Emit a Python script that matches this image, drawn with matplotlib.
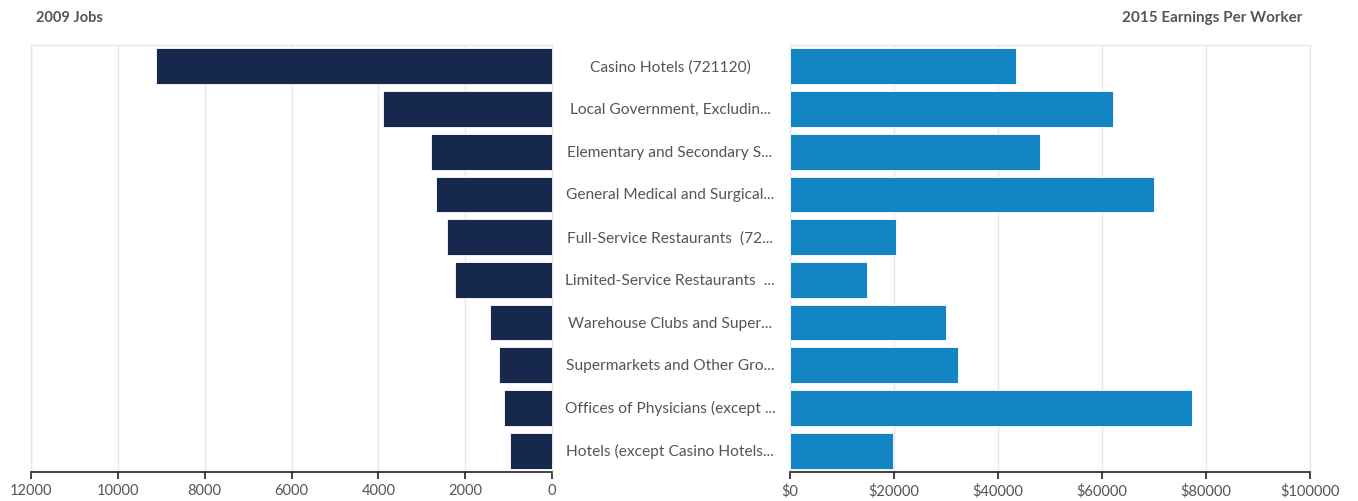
import matplotlib
matplotlib.use("Agg")
import matplotlib.pyplot as plt
from matplotlib.ticker import FuncFormatter

plt.rcParams['font.family'] = ['Lato', 'DejaVu Sans']

industries = [
    "Casino Hotels (721120)",
    "Local Government, Excludin...",
    "Elementary and Secondary S...",
    "General Medical and Surgical...",
    "Full-Service Restaurants  (72...",
    "Limited-Service Restaurants  ...",
    "Warehouse Clubs and Super...",
    "Supermarkets and Other Gro...",
    "Offices of Physicians (except ...",
    "Hotels (except Casino Hotels...",
]
jobs_2009 = [9120, 3890, 2790, 2670, 2420, 2230, 1430, 1220, 1100, 970]
earnings_2015 = [43500, 62100, 48100, 70000, 20400, 14800, 30000, 32300, 77300, 19800]

jobs_ticks = [12000, 10000, 8000, 6000, 4000, 2000, 0]
earn_ticks = [0, 20000, 40000, 60000, 80000, 100000]

navy = "#17284f"
blue = "#1385c4"
text_gray = "#555555"
grid_gray = "#e8e8e8"

W, H = 1358, 502
fig = plt.figure(figsize=(W / 100, H / 100), dpi=100)

bottom = 1 - 473 / H
height = (473 - 46) / H
ax_l = fig.add_axes([31 / W, bottom, 521 / W, height])
ax_r = fig.add_axes([790 / W, bottom, 520 / W, height])

ypos = list(range(len(industries)))

ax_l.barh(ypos, jobs_2009, height=0.84, color=navy, edgecolor="white", linewidth=0.6, zorder=3)
ax_r.barh(ypos, earnings_2015, height=0.84, color=blue, edgecolor="white", linewidth=0.6, zorder=3)

ax_l.set_xlim(12000, 0)
ax_r.set_xlim(0, 100000)
for ax in (ax_l, ax_r):
    ax.set_ylim(len(industries) - 0.5, -0.5)
    ax.set_yticks([])
    ax.grid(axis="x", color=grid_gray, linewidth=1, zorder=0)
    for side in ("top", "left", "right"):
        ax.spines[side].set_color(grid_gray)
        ax.spines[side].set_linewidth(1)
    ax.spines["bottom"].set_color("#222222")
    ax.spines["bottom"].set_linewidth(1.2)
    ax.tick_params(axis="x", direction="out", length=5, width=1.2, color="#222222",
                   labelsize=10.5, labelcolor=text_gray, pad=3)

ax_l.set_xticks(jobs_ticks)
ax_l.xaxis.set_major_formatter(FuncFormatter(lambda v, p: f"{int(v)}"))
ax_r.set_xticks(earn_ticks)
ax_r.xaxis.set_major_formatter(FuncFormatter(lambda v, p: f"${int(v)}"))

# Industry names in the gap between the two panels
for y, name in zip(ypos, industries):
    ax_l.annotate(name, xy=(0, y), xycoords="data", xytext=(118, 0),
                  textcoords="offset pixels", ha="center", va="center",
                  fontsize=11.2, color=text_gray)

fig.text(36 / W, 1 - 18 / H, "2009 Jobs", ha="left", va="center",
         fontsize=10.5, fontweight="bold", color=text_gray)
fig.text(1302 / W, 1 - 18 / H, "2015 Earnings Per Worker", ha="right", va="center",
         fontsize=11, fontweight="bold", color=text_gray)

fig.savefig("out.png", dpi=100, facecolor="white")
